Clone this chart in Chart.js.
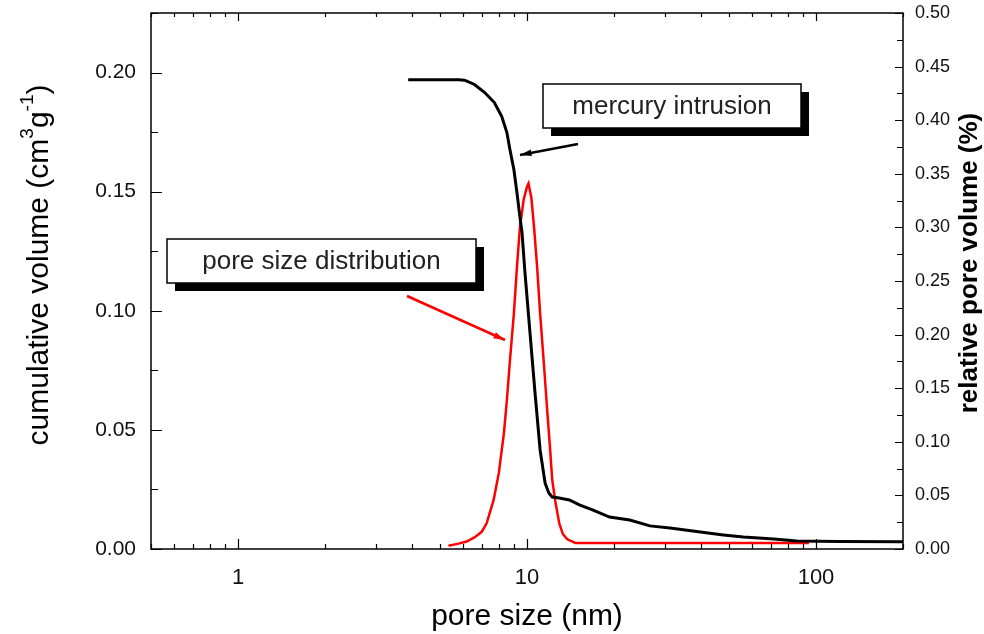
<!DOCTYPE html>
<html>
<head>
<meta charset="utf-8">
<script src="https://cdn.jsdelivr.net/npm/chart.js@4/dist/chart.umd.min.js"></script>
<style>
  html, body { margin: 0; padding: 0; background: #fff; }
  #wrap { width: 984px; height: 634px; }
</style>
</head>
<body>
<div id="wrap"><canvas id="pore_chart" width="984" height="634"></canvas></div>
<script>
// mercury intrusion, cumulative volume (left axis)
let hg_size = [3.88, 4.5, 5.2, 5.8, 6.08, 6.58, 7.14, 7.71, 8.18, 8.52, 8.73, 9.01, 9.23, 9.45, 9.61, 9.84, 10.24, 10.66, 11.10, 11.55, 11.9, 12.22, 12.93, 14.01, 15.18, 16.85, 19.31, 22.67, 26.62, 31.25, 39.8, 47.8, 56.1, 71.4, 85.9, 120, 200];
let hg_volume = [0.197, 0.197, 0.197, 0.197, 0.1968, 0.195, 0.1916, 0.1874, 0.1815, 0.1748, 0.1676, 0.1592, 0.1496, 0.1395, 0.1328, 0.116, 0.0908, 0.0655, 0.0416, 0.0277, 0.0235, 0.0218, 0.0214, 0.0206, 0.0185, 0.0164, 0.0134, 0.0122, 0.0097, 0.0088, 0.0071, 0.0059, 0.005, 0.0042, 0.0034, 0.0031, 0.003];

// pore size distribution, relative pore volume (right axis)
let psd_size = [5.35, 5.8, 6.18, 6.6, 6.97, 7.25, 7.67, 7.99, 8.32, 8.52, 8.73, 9.01, 9.23, 9.45, 9.74, 10.0, 10.12, 10.35, 10.58, 10.84, 11.10, 11.46, 11.74, 12.03, 12.22, 12.52, 12.93, 13.3, 13.79, 14.7, 20, 40, 94.5];
let psd_volume = [0.003, 0.005, 0.007, 0.011, 0.016, 0.024, 0.046, 0.071, 0.108, 0.139, 0.176, 0.220, 0.263, 0.300, 0.326, 0.338, 0.341, 0.328, 0.300, 0.263, 0.220, 0.170, 0.130, 0.092, 0.065, 0.045, 0.024, 0.014, 0.009, 0.0056, 0.0056, 0.0056, 0.0056];

// tick labels
let x_ticks = [1, 10, 100];
let y_ticks = [0, 0.05, 0.10, 0.15, 0.20];
let y2_ticks = [0, 0.05, 0.10, 0.15, 0.20, 0.25, 0.30, 0.35, 0.40, 0.45, 0.50];

const font_name = '"Liberation Sans", Arial, sans-serif';

function to_points(xs, ys) {
    return xs.map((x, i) => ({ x: x, y: ys[i] }));
}

function arrow(ctx, x1, y1, x2, y2, color) {
    ctx.save();
    ctx.strokeStyle = color;
    ctx.fillStyle = color;
    ctx.lineWidth = 2.5;
    ctx.beginPath();
    ctx.moveTo(x1, y1);
    ctx.lineTo(x2, y2);
    ctx.stroke();
    let a = Math.atan2(y2 - y1, x2 - x1);
    ctx.beginPath();
    ctx.moveTo(x2, y2);
    ctx.lineTo(x2 - 12 * Math.cos(a - 0.28), y2 - 12 * Math.sin(a - 0.28));
    ctx.lineTo(x2 - 12 * Math.cos(a + 0.28), y2 - 12 * Math.sin(a + 0.28));
    ctx.closePath();
    ctx.fill();
    ctx.restore();
}

function label_box(ctx, x, y, w, h, text) {
    ctx.save();
    ctx.fillStyle = '#000';
    ctx.fillRect(x + 8, y + 8, w, h);
    ctx.fillStyle = '#fff';
    ctx.fillRect(x, y, w, h);
    ctx.strokeStyle = '#000';
    ctx.lineWidth = 1.5;
    ctx.strokeRect(x, y, w, h);
    ctx.fillStyle = '#222';
    ctx.font = '26px ' + font_name;
    ctx.textAlign = 'center';
    ctx.textBaseline = 'middle';
    ctx.fillText(text, x + w / 2, y + h / 2 + 1);
    ctx.restore();
}

// frame, inward ticks, axis titles and the two callouts
const decor = {
    id: 'decor',
    afterDatasetsDraw(chart) {
        let ctx = chart.ctx;
        let a = chart.chartArea;
        let sx = chart.scales.x, sy = chart.scales.y, sy2 = chart.scales.y2;
        ctx.save();
        ctx.strokeStyle = '#000';
        ctx.lineWidth = 1.5;
        ctx.strokeRect(a.left, a.top, a.right - a.left, a.bottom - a.top);

        ctx.lineWidth = 1.2;
        ctx.beginPath();
        // log x ticks, bottom and top
        for (let dec = 0.1; dec <= 100; dec *= 10) {
            for (let m = 1; m <= 9; m++) {
                let v = m * dec;
                if (v < 0.5 || v > 200) continue;
                let px = Math.round(sx.getPixelForValue(v)) + 0.5;
                let len = m === 1 ? 10 : 5;
                ctx.moveTo(px, a.bottom); ctx.lineTo(px, a.bottom - len);
                ctx.moveTo(px, a.top); ctx.lineTo(px, a.top + (m === 1 ? 8 : 4));
            }
        }
        // left ticks
        for (let v = 0; v <= 0.2251; v += 0.025) {
            let py = Math.round(sy.getPixelForValue(v)) + 0.5;
            let major = Math.abs(v / 0.05 - Math.round(v / 0.05)) < 1e-6;
            ctx.moveTo(a.left, py); ctx.lineTo(a.left + (major ? 11 : 7), py);
        }
        // right ticks
        for (let v = 0; v <= 0.5001; v += 0.025) {
            let py = Math.round(sy2.getPixelForValue(v)) + 0.5;
            let major = Math.abs(v / 0.05 - Math.round(v / 0.05)) < 1e-6;
            ctx.moveTo(a.right, py); ctx.lineTo(a.right - (major ? 8 : 6), py);
        }
        ctx.stroke();

        // x title
        ctx.fillStyle = '#000';
        ctx.textAlign = 'center';
        ctx.textBaseline = 'middle';
        ctx.font = '30px ' + font_name;
        ctx.fillText('pore size (nm)', (a.left + a.right) / 2, 617);

        // left title with superscripts
        ctx.save();
        ctx.translate(40, 265);
        ctx.rotate(-Math.PI / 2);
        let big = '30px ' + font_name, small = '19px ' + font_name;
        let parts = [['cumulative volume (cm', big, 0], ['3', small, -12], ['g', big, 0], ['-1', small, -12], [')', big, 0]];
        let total = 0;
        parts.forEach(p => { ctx.font = p[1]; total += ctx.measureText(p[0]).width; });
        let cx = -total / 2;
        ctx.textAlign = 'left';
        parts.forEach(p => {
            ctx.font = p[1];
            ctx.fillText(p[0], cx, p[2]);
            cx += ctx.measureText(p[0]).width;
        });
        ctx.restore();

        // right title
        ctx.save();
        ctx.translate(970, 263);
        ctx.rotate(-Math.PI / 2);
        ctx.font = 'bold 26px ' + font_name;
        ctx.fillText('relative pore volume (%)', 0, 0);
        ctx.restore();

        // callouts
        arrow(ctx, 578, 144, 520, 155, '#000');
        arrow(ctx, 407, 296, 505, 340, '#ff0000');
        label_box(ctx, 543, 84, 258, 44, 'mercury intrusion');
        label_box(ctx, 167, 239, 309, 44, 'pore size distribution');
        ctx.restore();
    }
};

function no_pad(s) {
    s.paddingTop = 0;
    s.paddingBottom = 0;
}

let ctx = document.getElementById('pore_chart').getContext('2d');

const config = {
    type: 'scatter',
    data: {
        datasets: [
            {
                label: 'mercury intrusion',
                data: to_points(hg_size, hg_volume),
                yAxisID: 'y',
                showLine: true,
                borderColor: '#000',
                borderWidth: 3,
                pointRadius: 0,
                tension: 0
            },
            {
                label: 'pore size distribution',
                data: to_points(psd_size, psd_volume),
                yAxisID: 'y2',
                showLine: true,
                borderColor: '#ff0000',
                borderWidth: 2.5,
                pointRadius: 0,
                tension: 0
            }
        ]
    },
    options: {
        responsive: false,
        animation: false,
        layout: { padding: { top: 13, left: 0, right: 0, bottom: 0 } },
        plugins: {
            legend: { display: false },
            tooltip: { enabled: false }
        },
        scales: {
            x: {
                type: 'logarithmic',
                min: 0.5,
                max: 200,
                grid: { display: false, drawTicks: false },
                border: { display: false },
                afterBuildTicks: (s) => { s.ticks = x_ticks.map(v => ({ value: v })); },
                afterFit: (s) => { s.height = 85; s.paddingLeft = 0; s.paddingRight = 0; },
                ticks: {
                    autoSkip: false,
                    maxRotation: 0,
                    padding: 16,
                    color: '#111',
                    font: { family: font_name, size: 22 },
                    callback: (v) => String(v)
                }
            },
            y: {
                position: 'left',
                min: 0,
                max: 0.225,
                grid: { display: false, drawTicks: false },
                border: { display: false },
                afterBuildTicks: (s) => { s.ticks = y_ticks.map(v => ({ value: v })); },
                afterFit: (s) => { s.width = 151; no_pad(s); },
                ticks: {
                    padding: 15,
                    color: '#111',
                    font: { family: font_name, size: 21 },
                    callback: (v) => v.toFixed(2)
                }
            },
            y2: {
                position: 'right',
                min: 0,
                max: 0.5,
                grid: { display: false, drawTicks: false },
                border: { display: false },
                afterBuildTicks: (s) => { s.ticks = y2_ticks.map(v => ({ value: v })); },
                afterFit: (s) => { s.width = 81; no_pad(s); },
                ticks: {
                    padding: 12,
                    color: '#111',
                    font: { family: font_name, size: 18 },
                    callback: (v) => v.toFixed(2)
                }
            }
        }
    },
    plugins: [decor]
};

let pore_chart = new Chart(ctx, config);
</script>
</body>
</html>
